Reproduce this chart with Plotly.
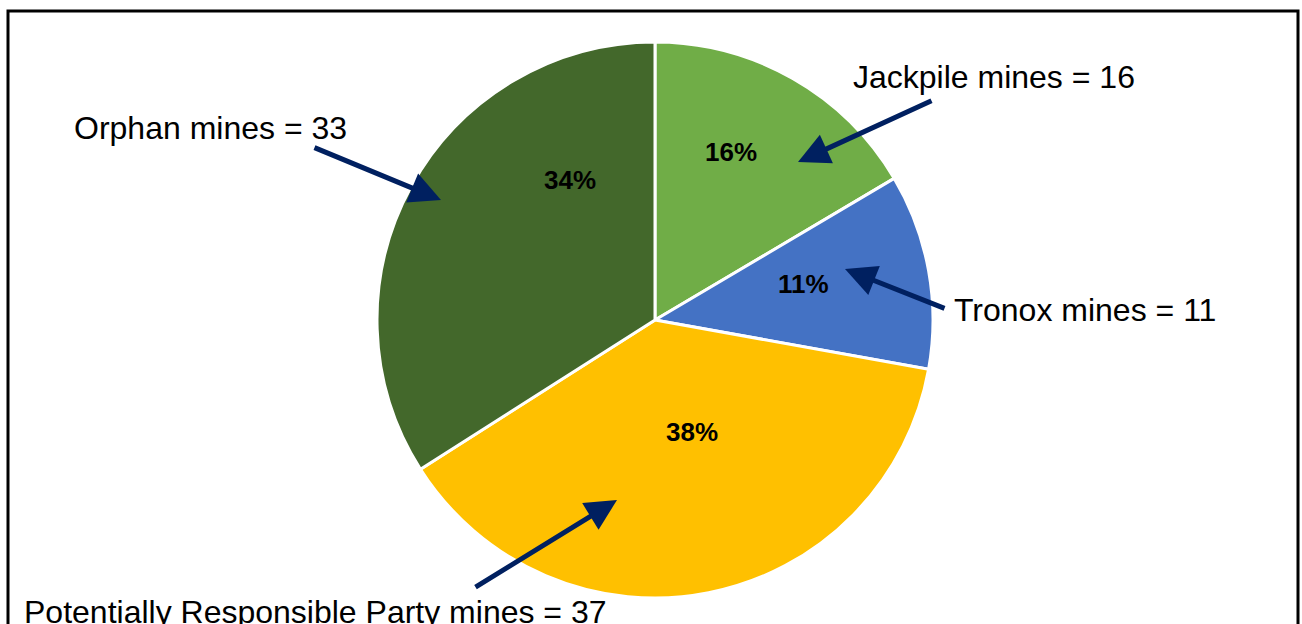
import plotly.graph_objects as go

categories = ["Jackpile mines", "Tronox mines", "Potentially Responsible Party mines", "Orphan mines"]
counts = [16, 11, 37, 33]
colors = ["#70AD47", "#4472C4", "#FFC000", "#43682B"]

W, H = 1302, 624
cx, cy, r = 655, 320, 278  # pie centre / radius in pixels

# layout constants (pixel positions of annotations)
pct_pos = [(731, 152), (803, 284), (692, 432), (570, 180)]
name_pos = [(994, 77), (1085, 310), (315, 612), (210, 128)]
arrows = [  # (tail x, tail y, head x, head y)
    ((933, 100), (798, 162)),
    ((946, 309), (845, 269)),
    ((474, 588), (617, 500)),
    ((313, 147), (441, 200)),
]

def px(x):
    return x / W

def py(y):
    return 1 - y / H

total = sum(counts)
fig = go.Figure(go.Pie(
    labels=categories,
    values=counts,
    sort=False,
    direction="clockwise",
    rotation=0,
    marker=dict(colors=colors, line=dict(color="white", width=3)),
    textinfo="none",
    hoverinfo="label+value+percent",
    showlegend=False,
    domain=dict(x=[px(cx - r), px(cx + r)], y=[py(cy + r), py(cy - r)]),
))

annotations = []
for (x, y), v in zip(pct_pos, counts):
    annotations.append(dict(
        x=px(x), y=py(y), xref="paper", yref="paper",
        text=f"<b>{round(100 * v / total)}%</b>", showarrow=False,
        font=dict(family="Liberation Sans, Arial", size=26, color="black"),
        xanchor="center", yanchor="middle",
    ))
for (x, y), name, v in zip(name_pos, categories, counts):
    annotations.append(dict(
        x=px(x), y=py(y), xref="paper", yref="paper",
        text=f"{name} = {v}", showarrow=False,
        font=dict(family="Liberation Sans, Arial", size=32, color="black"),
        xanchor="center", yanchor="middle",
    ))
for (tx, ty), (hx, hy) in arrows:
    annotations.append(dict(
        x=px(hx), y=py(hy), xref="paper", yref="paper",
        ax=tx - hx, ay=ty - hy, axref="pixel", ayref="pixel",
        text="", showarrow=True, arrowhead=2, arrowsize=1.25,
        arrowwidth=5, arrowcolor="#002060", standoff=0, startstandoff=0,
    ))

fig.update_layout(
    width=W, height=H,
    margin=dict(l=0, r=0, t=0, b=0),
    paper_bgcolor="white",
    plot_bgcolor="white",
    annotations=annotations,
    shapes=[dict(
        type="rect", xref="paper", yref="paper",
        x0=px(8), x1=px(1298), y0=-0.05, y1=py(11),
        line=dict(color="black", width=3), fillcolor="rgba(0,0,0,0)",
    )],
)

fig.write_html(
    "out.html",
    config={"displayModeBar": False},
    post_script="document.body.style.margin='0';document.body.style.overflow='hidden';",
)
